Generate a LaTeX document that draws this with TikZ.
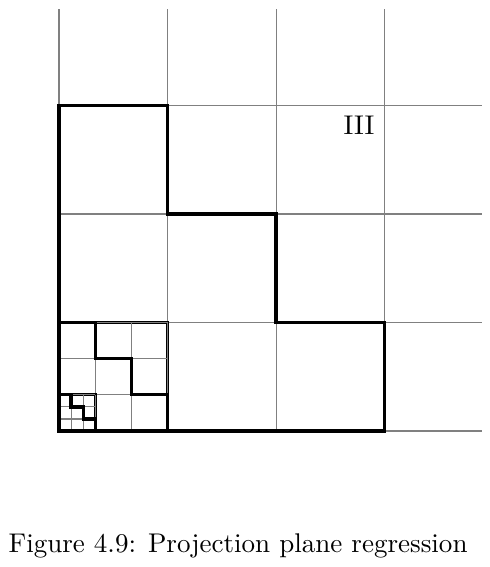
\documentclass[tikz,border=0pt]{standalone}
\usepackage{amsmath,amssymb}
\usepackage{tikz}
\usetikzlibrary{positioning}

\begin{document}
\begin{tikzpicture}[
  x=1.41cm,y=1.41cm,
  gridline/.style={gray,line width=0.4pt},
  stair/.style={black,line width=1.2pt,line join=miter},
  cellbox/.style={black,line width=1.2pt}
]
\useasboundingbox (-0.544,-1.253) rectangle (3.963,3.972);
% coarse grid
\foreach \k in {0,1,2,3} {
  \draw[gridline] (\k,0) -- (\k,3.89);
  \draw[gridline] (0,\k) -- (3.9,\k);
}
\draw[stair] (0,0) -| (3,1) -| (2,2) -| (1,3) -| (0,0) -- cycle;
% self-similar copies in the corner cell
\foreach \s in {1,1/3} {
  \begin{scope}[scale=\s]
    \draw[cellbox] (0,0) rectangle (1,1);
    \draw[gridline,step=1/3] (0,0) grid (1,1);
    \draw[stair] (0,0) -| (1,1/3) -| (2/3,2/3) -| (1/3,1) -| (0,0) -- cycle;
  \end{scope}
}
\node (region) at (2.765,2.816) {III};
\node[anchor=base] (caption) at (1.65,-1.115) {Figure 4.9: Projection plane regression};
\end{tikzpicture}
\end{document}
